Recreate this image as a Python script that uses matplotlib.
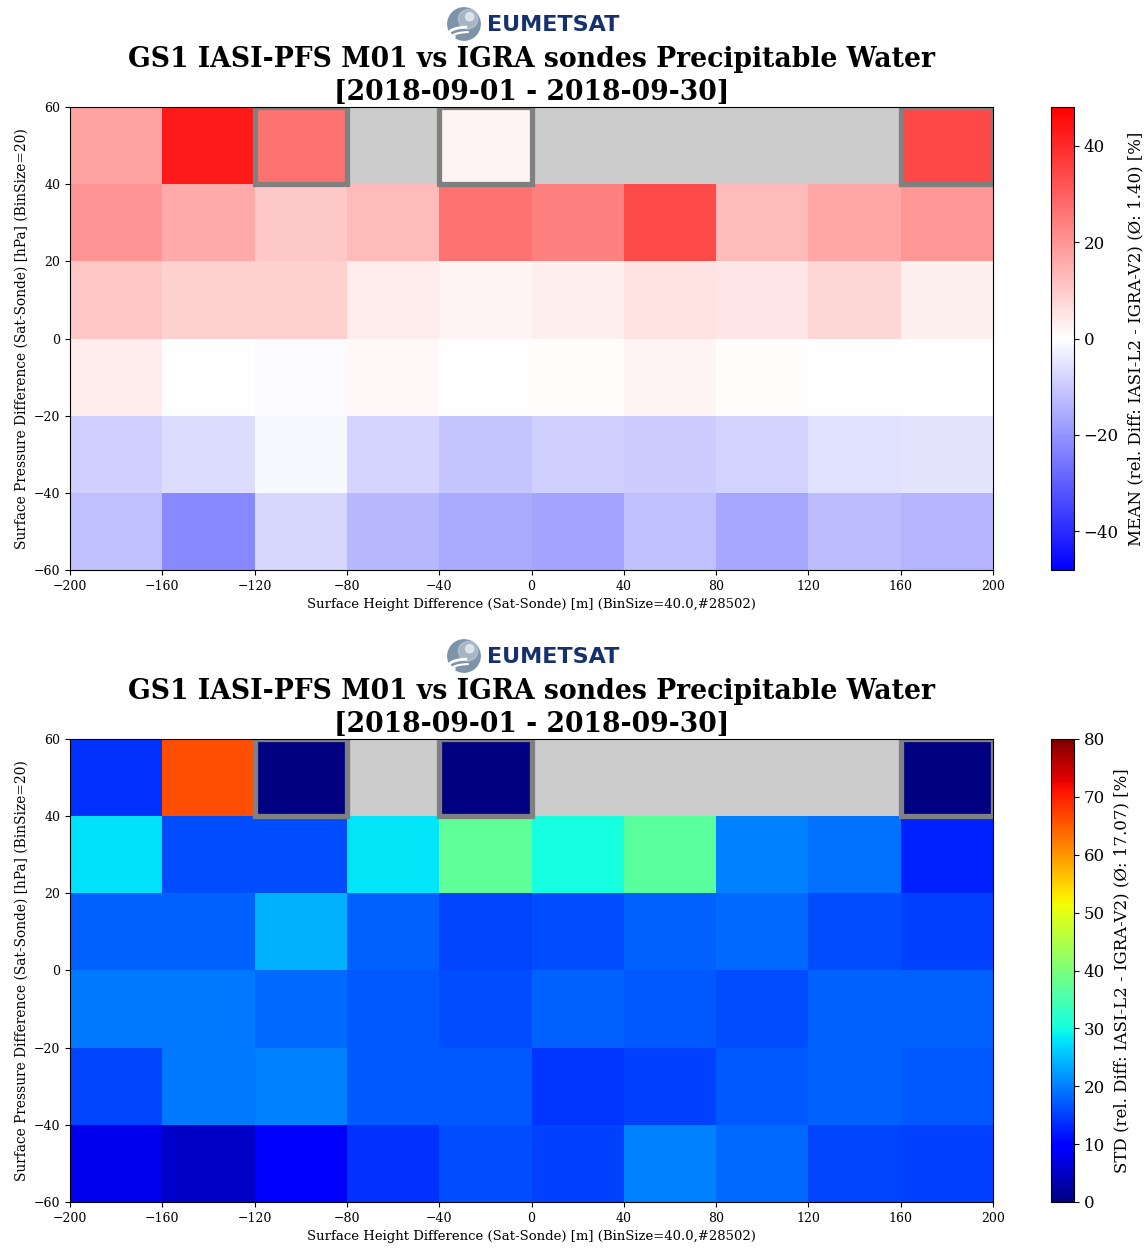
import numpy as np
import matplotlib
matplotlib.use("Agg")
import matplotlib.pyplot as plt
from matplotlib.patches import Rectangle, Circle, Arc

# ----------------------------
# Data (rows from -60 hPa bin upwards, columns from -200 m bin)
# ----------------------------
height_edges = [-200, -160, -120, -80, -40, 0, 40, 80, 120, 160, 200]
pressure_edges = [-60, -40, -20, 0, 20, 40, 60]

mean_row_m60 = [-11.9, -22.4, -7.7, -13.4, -16.0, -17.1, -11.9, -16.8, -12.6, -13.9]
mean_row_m40 = [-9.2, -6.6, -1.5, -8.1, -11.1, -8.8, -9.6, -8.3, -5.8, -4.9]
mean_row_m20 = [3.6, -0.1, -0.9, 1.3, 0.1, 0.4, 1.9, 0.6, 0.0, 0.2]
mean_row_p00 = [10.7, 8.8, 8.8, 3.4, 1.9, 3.2, 5.3, 4.7, 7.5, 2.8]
mean_row_p20 = [20.1, 15.8, 10.4, 13.0, 26.4, 23.9, 34.1, 13.0, 16.8, 19.6]
mean_row_p40 = [17.3, 43.1, 26.4, np.nan, 2.0, np.nan, np.nan, np.nan, np.nan, 34.4]

std_row_m60 = [7.7, 5.3, 9.5, 13.8, 16.2, 15.0, 20.0, 18.2, 15.6, 15.0]
std_row_m40 = [15.6, 19.4, 20.0, 16.9, 16.9, 14.1, 15.0, 16.9, 17.5, 16.9]
std_row_m20 = [19.4, 19.4, 18.2, 16.9, 16.2, 17.5, 16.9, 16.0, 17.5, 17.8]
std_row_p00 = [17.5, 17.8, 23.8, 17.5, 15.6, 16.2, 17.8, 18.2, 16.2, 15.0]
std_row_p20 = [27.6, 16.2, 16.2, 27.9, 37.3, 30.1, 36.7, 20.0, 18.8, 12.5]
std_row_p40 = [14.0, 66.1, 0.0, np.nan, 0.0, np.nan, np.nan, np.nan, np.nan, 0.0]

# bins with too few samples (left edge of height bin, lower edge of pressure bin)
flagged_bins = [(-120, 40), (-40, 40), (160, 40)]

mean_avg = 1.40
std_avg = 17.07
n_pairs = 28502

mean_grid = np.ma.masked_invalid(np.array([mean_row_m60, mean_row_m40, mean_row_m20,
                                           mean_row_p00, mean_row_p20, mean_row_p40]))
std_grid = np.ma.masked_invalid(np.array([std_row_m60, std_row_m40, std_row_m20,
                                          std_row_p00, std_row_p20, std_row_p40]))

title = "GS1 IASI-PFS M01 vs IGRA sondes Precipitable Water\n[2018-09-01 - 2018-09-30]"

plt.rcParams["font.family"] = ["DejaVu Serif"]

W, H = 1148, 1251
fig = plt.figure(figsize=(W / 100, H / 100), dpi=100)


def px_axes(x0, y0, x1, y1):
    # pixel box (top-left origin) -> figure axes
    return fig.add_axes([x0 / W, 1 - y1 / H, (x1 - x0) / W, (y1 - y0) / H])


def draw_logo(ytop):
    lax = px_axes(446, ytop, 482, ytop + 34)
    lax.set_xlim(-1.05, 1.05)
    lax.set_ylim(-1.05, 1.05)
    lax.set_aspect("equal")
    lax.axis("off")
    lax.add_patch(Circle((0, 0), 1.0, color="#7f93a8"))
    lax.add_patch(Circle((0.25, 0.3), 0.6, color="#b9c6d3", alpha=0.7))
    lax.add_patch(Circle((0.35, 0.45), 0.25, color="#e8eef3", alpha=0.8))
    lax.add_patch(Arc((0.2, -0.55), 2.2, 0.7, theta1=90, theta2=200, color="white", lw=2))
    lax.add_patch(Arc((0.3, -0.85), 2.2, 0.7, theta1=90, theta2=200, color="white", lw=1.5))
    fig.text(487 / W, 1 - (ytop + 18) / H, "EUMETSAT", family="DejaVu Sans",
             fontweight="bold", fontsize=16, color="#17306e", va="center", ha="left")


def draw_panel(ytop, grid, cmap, vmin, vmax, cbar_label, cbar_ticks):
    ax = px_axes(70, ytop, 993, ytop + 463)
    ax.set_facecolor("#cccccc")
    mesh = ax.pcolormesh(height_edges, pressure_edges, grid, cmap=cmap, vmin=vmin, vmax=vmax)
    for hx, py in flagged_bins:
        ax.add_patch(Rectangle((hx, py), 40, 20, fill=False, edgecolor="#808080", lw=3.8))
    ax.set_xlim(-200, 200)
    ax.set_ylim(-60, 60)
    ax.set_xticks(height_edges)
    ax.set_yticks(pressure_edges)
    ax.tick_params(labelsize=9)
    ax.set_xlabel(f"Surface Height Difference (Sat-Sonde) [m] (BinSize=40.0,#{n_pairs})", fontsize=9.5)
    ax.set_ylabel("Surface Pressure Difference (Sat-Sonde) [hPa] (BinSize=20)", fontsize=9.9)
    ax.set_title(title, fontsize=19.2, fontweight="bold", pad=5, linespacing=1.3)

    cax = px_axes(1051, ytop, 1074, ytop + 463)
    cb = fig.colorbar(mesh, cax=cax, ticks=cbar_ticks)
    cb.ax.tick_params(labelsize=12)
    cb.set_label(cbar_label, fontsize=12, labelpad=6)
    return ax


draw_logo(7)
draw_panel(107, mean_grid, "bwr", -48, 48,
           f"MEAN (rel. Diff: IASI-L2 - IGRA-V2) (Ø: {mean_avg:.2f}) [%]", [-40, -20, 0, 20, 40])

draw_logo(639)
draw_panel(739, std_grid, "jet", 0, 80,
           f"STD (rel. Diff: IASI-L2 - IGRA-V2) (Ø: {std_avg:.2f}) [%]", list(range(0, 81, 10)))

fig.savefig("out.png", dpi=100)
plt.close(fig)
